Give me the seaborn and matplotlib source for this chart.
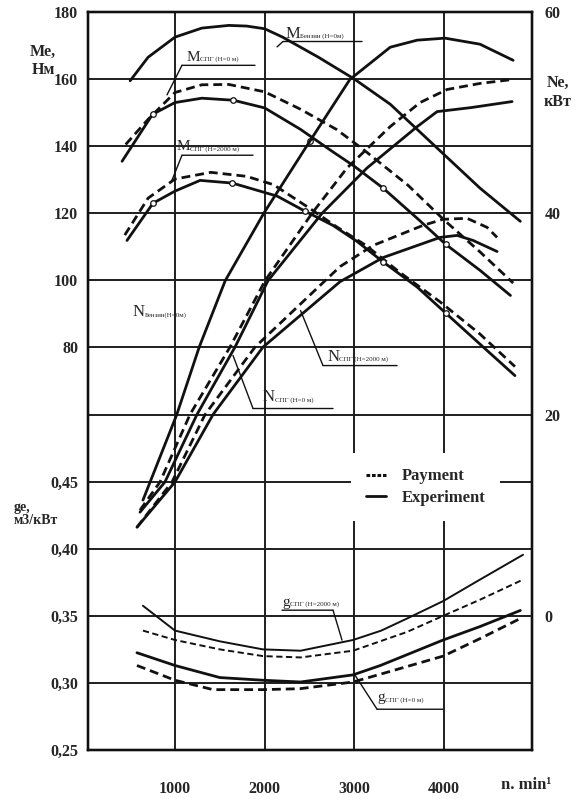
import matplotlib
matplotlib.use('Agg')
import numpy as np
import matplotlib.pyplot as plt
from matplotlib.lines import Line2D
import seaborn as sns

# --- torque Me, N*m (left axis) ---
n_mb = [500, 700, 1000, 1300, 1600, 1800, 2000, 2200, 2600, 3000, 3400, 3700, 4000, 4400, 4850]
me_mb = [159.5, 166.5, 172.5, 175.2, 176.0, 175.8, 175.0, 172.5, 166.5, 160.0, 152.5, 145.0, 137.5, 127.5, 117.6]

n_m0_calc = [450, 700, 1000, 1300, 1600, 2000, 2400, 2800, 3100, 3600, 4000, 4400, 4770]
me_m0_calc = [140.5, 148.0, 156.0, 158.3, 158.4, 156.2, 151.0, 145.0, 139.0, 128.3, 118.0, 108.5, 99.2]
n_m0_exp = [410, 750, 1000, 1300, 1650, 2000, 2400, 2750, 3000, 3320, 3700, 4020, 4400, 4740]
me_m0_exp = [135.5, 149.5, 153.0, 154.3, 153.7, 151.4, 145.0, 138.5, 134.0, 127.5, 118.5, 110.7, 103.0, 95.5]

n_m2_calc = [440, 700, 1000, 1400, 1800, 2100, 2500, 2800, 3130, 3500, 3950, 4400, 4790]
me_m2_calc = [113.5, 124.5, 130.2, 132.2, 131.0, 128.5, 121.5, 116.0, 110.4, 102.5, 93.7, 84.0, 74.3]
n_m2_exp = [465, 755, 1000, 1280, 1640, 2140, 2430, 2760, 3030, 3320, 3700, 4020, 4400, 4790]
me_m2_exp = [111.9, 123.0, 126.6, 129.8, 129.0, 125.1, 120.9, 116.4, 111.6, 105.5, 98.0, 90.2, 81.0, 71.6]

# measured points (circles)
pts_n_m0 = [755, 1650, 2500, 3320, 4020]
pts_me_m0 = [149.5, 153.7, 141.6, 127.5, 110.7]
pts_n_m2 = [755, 1640, 2450, 3320, 4020]
pts_me_m2 = [123.0, 129.0, 120.6, 105.5, 90.2]

# --- power Ne, kW (right axis) ---
n_nb = [643, 1020, 1270, 1560, 1990, 2470, 2950, 3400, 3700, 4010, 4400, 4770]
ne_nb = [11.5, 20.0, 26.7, 33.3, 40.0, 46.7, 53.3, 56.5, 57.2, 57.4, 56.8, 55.2]

n_n0_calc = [610, 833, 1167, 1613, 2004, 2528, 2918, 3398, 3732, 4033, 4400, 4770]
ne_n0_calc = [10.5, 13.3, 20.0, 26.7, 33.3, 40.0, 44.5, 48.6, 51.0, 52.3, 52.9, 53.3]
n_n0_exp = [610, 888, 1245, 1669, 2037, 2640, 3141, 3699, 3922, 4300, 4758]
ne_n0_exp = [10.3, 13.3, 20.0, 26.7, 33.3, 40.0, 44.5, 48.6, 50.1, 50.5, 51.1]

n_n2_calc = [576, 967, 1335, 1892, 2673, 2840, 3208, 3766, 3989, 4256, 4479, 4591]
ne_n2_calc = [8.8, 13.3, 20.0, 26.7, 33.3, 34.7, 36.8, 38.8, 39.4, 39.5, 38.6, 37.6]
n_n2_exp = [576, 1000, 1424, 1981, 2840, 3320, 3955, 4145, 4323, 4591]
ne_n2_exp = [8.8, 13.3, 20.0, 26.7, 33.2, 35.6, 37.6, 37.8, 37.3, 36.2]

# --- specific consumption ge, m3/kWh ---
n_g2_exp = [643, 1000, 1500, 1980, 2400, 2985, 3300, 3587, 3990, 4400, 4880]
ge_g2_exp = [0.3575, 0.339, 0.331, 0.325, 0.324, 0.332, 0.339, 0.348, 0.361, 0.377, 0.3955]
n_g2_calc = [643, 1000, 1500, 1980, 2400, 2985, 3587, 3990, 4400, 4880]
ge_g2_calc = [0.339, 0.332, 0.325, 0.320, 0.319, 0.324, 0.338, 0.350, 0.362, 0.377]
n_g0_exp = [576, 1000, 1500, 1980, 2400, 2985, 3290, 3990, 4400, 4850]
ge_g0_exp = [0.3225, 0.313, 0.304, 0.302, 0.3007, 0.306, 0.313, 0.332, 0.342, 0.354]
n_g0_calc = [576, 1000, 1424, 1980, 2394, 2985, 3290, 3990, 4400, 4850]
ge_g0_calc = [0.313, 0.302, 0.295, 0.295, 0.2957, 0.3007, 0.3065, 0.320, 0.333, 0.348]

x_ticks = [1000, 2000, 3000, 4000]
me_ticks = [80, 100, 120, 140, 160, 180]
ge_ticks = [0.25, 0.30, 0.35, 0.40, 0.45]
ne_ticks = [0, 20, 40, 60]

sns.set_style('white')
SERIF = ['Liberation Serif', 'DejaVu Serif']
plt.rcParams['font.family'] = SERIF
plt.rcParams['font.weight'] = 'bold'

DASH = (0, (3.2, 1.8))
INK = '#111111'

fig = plt.figure(figsize=(5.75, 7.99), dpi=100)
ax = fig.add_axes([0.153, 0.0613, 0.7722, 0.9237])
ax_ne = ax.twinx()
ax_g = ax.twinx()


def curve(axis, x, y, dashed=False, lw=2.0):
    sns.lineplot(x=x, y=y, ax=axis, color=INK, lw=lw, estimator=None, sort=False,
                 legend=False, linestyle=DASH if dashed else '-')


# torque
curve(ax, n_mb, me_mb)
curve(ax, n_m0_calc, me_m0_calc, True)
curve(ax, n_m0_exp, me_m0_exp)
curve(ax, n_m2_calc, me_m2_calc, True)
curve(ax, n_m2_exp, me_m2_exp)
for px, py in [(pts_n_m0, pts_me_m0), (pts_n_m2, pts_me_m2)]:
    sns.scatterplot(x=px, y=py, ax=ax, s=16, marker='o', facecolor='white',
                    edgecolor=INK, linewidth=0.9, zorder=5, legend=False)

# power
curve(ax_ne, n_nb, ne_nb)
curve(ax_ne, n_n0_calc, ne_n0_calc, True)
curve(ax_ne, n_n0_exp, ne_n0_exp)
curve(ax_ne, n_n2_calc, ne_n2_calc, True)
curve(ax_ne, n_n2_exp, ne_n2_exp)

# specific consumption
curve(ax_g, n_g2_exp, ge_g2_exp, lw=1.4)
curve(ax_g, n_g2_calc, ge_g2_calc, True, lw=1.4)
curve(ax_g, n_g0_exp, ge_g0_exp, lw=2.0)
curve(ax_g, n_g0_calc, ge_g0_calc, True, lw=2.0)

# scales: 11 grid steps share one frame
ax.set_xlim(30, 4980)
ax.set_ylim(-40, 180)
ax_ne.set_ylim(-40 / 3, 60)
ax_g.set_ylim(0.25, 0.80)

ax.set_xticks(x_ticks)
ax.set_xticklabels([str(v) for v in x_ticks])
ax.set_yticks(np.arange(-40, 181, 20))
ax.set_yticklabels(['' if v < 80 else str(v) for v in np.arange(-40, 181, 20)])
ax.grid(True, color='#1e1e1e', lw=1.4)
ax.tick_params(axis='x', length=0, pad=22, labelsize=11.5)
ax.tick_params(axis='y', length=0, pad=7, labelsize=11.5)

ax_g.set_yticks(ge_ticks)
ax_g.set_yticklabels([f'{v:.2f}'.replace('.', ',') for v in ge_ticks])
ax_g.yaxis.tick_left()
ax_g.tick_params(axis='y', length=0, pad=7, labelsize=11.5)
ax_g.grid(False)

ax_ne.set_yticks(ne_ticks)
ax_ne.set_yticklabels([str(v) for v in ne_ticks])
ax_ne.tick_params(axis='y', length=0, pad=9, labelsize=11.5)
ax_ne.grid(False)

for a in (ax, ax_ne, ax_g):
    a.set_xlabel('')
    a.set_ylabel('')
    for s in a.spines.values():
        s.set_color(INK)
        s.set_linewidth(1.6)

# axis titles
fig.text(0.075, 1 - 61 / 799, 'Me,\nНм', ha='center', va='center', fontsize=11.5, linespacing=1.25)
fig.text(0.970, 1 - 92 / 799, 'Ne,\nкВт', ha='center', va='center', fontsize=11.5, linespacing=1.25)
fig.text(0.024, 1 - 514 / 799, 'gе,\nм3/кВт', ha='left', va='center', fontsize=10, linespacing=1.1)
ax.text(0.93, -0.047, 'n. min¹', transform=ax.transAxes, ha='left', va='center', fontsize=12)


def tag(axis, x, y, main, sub, dx, size=11):
    axis.text(x, y, main, fontsize=size, ha='left', va='baseline', fontweight='normal')
    axis.annotate(sub, xy=(x, y), xytext=(dx, 0), textcoords='offset points',
                  fontsize=5, va='baseline', fontweight='normal')


def leader(axis, pts):
    for (x0, y0), (x1, y1) in zip(pts[:-1], pts[1:]):
        axis.annotate('', xy=(x1, y1), xytext=(x0, y0),
                      arrowprops=dict(arrowstyle='-', lw=1.0, color=INK, shrinkA=0, shrinkB=0))


tag(ax, 2227, 172.3, 'M', 'Бензин (H=0м)', 10.5, size=12)
leader(ax, [(3085, 171.2), (2204, 171.2), (2138, 169.6)])

tag(ax, 1134, 165.5, 'M', 'СПГ (H=0 м)', 9.5)
leader(ax, [(1892, 164.1), (1078, 164.1), (911, 155.3)])

tag(ax, 1022, 138.8, 'M', 'СПГ (H=2000 м)', 9.5)
leader(ax, [(1870, 137.3), (1078, 137.3), (967, 129.9)])

tag(ax, 532, 89.3, 'N', 'Бензин(H=0м)', 8.5, size=12)

tag(ax, 1981, 63.9, 'N', 'СПГ (H=0 м)', 8.5, size=12)
leader(ax, [(2762, 61.8), (1870, 61.8), (1647, 77.6)])

tag(ax, 2695, 76.1, 'N', 'СПГ (H=2000 м)', 8.5, size=12)
leader(ax, [(3476, 74.6), (2650, 74.6), (2400, 91.0)])

tag(ax_g, 2193, 0.3575, 'g', 'СПГ (H=2000 м)', 6)
leader(ax_g, [(2193, 0.3542), (2762, 0.3542), (2862, 0.3319)])

tag(ax_g, 3253, 0.2862, 'g', 'СПГ (H=0 м)', 6)
leader(ax_g, [(3989, 0.2804), (3253, 0.2804), (3007, 0.3058)])

# legend box sits over the grid
handles = [Line2D([], [], color=INK, lw=2.2, linestyle=(0, (1.2, 0.6))),
           Line2D([], [], color=INK, lw=2.0)]
leg = ax_g.legend(handles, ['Payment', 'Experiment'], loc='center',
                  bbox_to_anchor=(0.761, 0.356), frameon=True, facecolor='white',
                  edgecolor='none', framealpha=1, fancybox=False,
                  prop=dict(family=SERIF, weight='bold', size=12),
                  handlelength=1.2, handletextpad=0.9, borderpad=0.9, labelspacing=0.35)
leg.set_zorder(10)

fig.savefig('out.png', dpi=100)
